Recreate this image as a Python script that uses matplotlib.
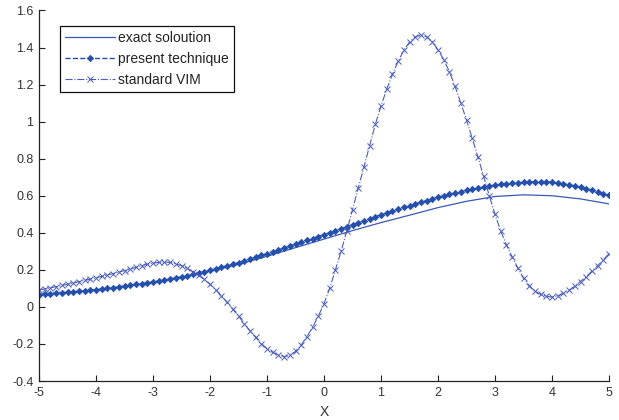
import numpy as np
import matplotlib
matplotlib.use("Agg")
import matplotlib.pyplot as plt

plt.rcParams['font.family'] = ['Liberation Sans', 'DejaVu Sans']

# Sample grids
x_fine = np.round(np.arange(-5.0, 5.0001, 0.1), 2)
x_coarse = np.round(np.arange(-5.0, 5.0001, 0.5), 2)

# exact solution (sampled every 0.5)
exact_vals = [0.068, 0.079, 0.092, 0.110, 0.132, 0.160, 0.192, 0.230, 0.273, 0.320,
              0.366, 0.412, 0.455, 0.495, 0.536, 0.570, 0.596, 0.605, 0.600, 0.583,
              0.556]

# present technique (sampled every 0.1)
present_vals = [0.066, 0.068, 0.070, 0.073, 0.075, 0.078, 0.081, 0.084, 0.087, 0.090,
                0.093, 0.096, 0.100, 0.104, 0.108, 0.112, 0.116, 0.121, 0.125, 0.130,
                0.135, 0.140, 0.145, 0.151, 0.157, 0.163, 0.169, 0.176, 0.183, 0.190,
                0.198, 0.206, 0.214, 0.222, 0.230, 0.239, 0.248, 0.258, 0.268, 0.278,
                0.288, 0.298, 0.308, 0.318, 0.329, 0.339, 0.349, 0.359, 0.369, 0.380,
                0.390, 0.401, 0.411, 0.422, 0.433, 0.444, 0.455, 0.466, 0.476, 0.487,
                0.497, 0.507, 0.517, 0.527, 0.537, 0.546, 0.556, 0.565, 0.574, 0.583,
                0.592, 0.600, 0.608, 0.615, 0.622, 0.629, 0.635, 0.641, 0.647, 0.652,
                0.657, 0.661, 0.665, 0.668, 0.670, 0.672, 0.674, 0.675, 0.675, 0.674,
                0.672, 0.669, 0.665, 0.660, 0.653, 0.646, 0.638, 0.629, 0.620, 0.611,
                0.602]

# standard VIM (sampled every 0.1)
vim_vals = [0.090, 0.097, 0.103, 0.109, 0.116, 0.122, 0.129, 0.136, 0.143, 0.150,
            0.157, 0.165, 0.172, 0.180, 0.188, 0.196, 0.205, 0.213, 0.222, 0.230,
            0.236, 0.240, 0.242, 0.240, 0.233, 0.222, 0.208, 0.190, 0.170, 0.148,
            0.122, 0.093, 0.060, 0.025, -0.012, -0.050, -0.090, -0.128, -0.165, -0.198,
            -0.225, -0.246, -0.261, -0.268, -0.262, -0.240, -0.205, -0.160, -0.110, -0.050,
            0.018, 0.100, 0.200, 0.300, 0.410, 0.525, 0.640, 0.755, 0.870, 0.985,
            1.085, 1.175, 1.255, 1.325, 1.385, 1.430, 1.458, 1.467, 1.458, 1.432,
            1.388, 1.335, 1.270, 1.190, 1.100, 1.010, 0.910, 0.810, 0.705, 0.600,
            0.500, 0.410, 0.335, 0.270, 0.210, 0.155, 0.115, 0.085, 0.067, 0.057,
            0.053, 0.060, 0.073, 0.090, 0.112, 0.137, 0.163, 0.193, 0.222, 0.254,
            0.288]

x_ticks = [-5, -4, -3, -2, -1, 0, 1, 2, 3, 4, 5]
y_ticks = [-0.4, -0.2, 0, 0.2, 0.4, 0.6, 0.8, 1, 1.2, 1.4, 1.6]

fig = plt.figure(figsize=(6.19, 4.20), dpi=100)
ax = fig.add_axes([39 / 619, 1 - 381 / 420, 570 / 619, 370.5 / 420])

ax.plot(x_coarse, exact_vals, '-', color='#3b58b6', lw=0.9, label='exact soloution')
ax.plot(x_fine, present_vals, '--', color='#2450ac', lw=1.0, marker='D',
        markersize=3.2, markeredgewidth=0.6, label='present technique')
ax.plot(x_fine, vim_vals, '-.', color='#4a5db8', lw=0.8, marker='x',
        markersize=5, markeredgewidth=0.7, label='standard VIM')

ax.set_xlim(-5, 5)
ax.set_ylim(-0.4, 1.6)
ax.set_xticks(x_ticks)
ax.set_yticks(y_ticks)
ax.set_xticklabels([f'{t:g}' for t in x_ticks])
ax.set_yticklabels([f'{t:g}' for t in y_ticks])

for side in ('top', 'right'):
    ax.spines[side].set_visible(False)
for side in ('left', 'bottom'):
    ax.spines[side].set_linewidth(0.9)
    ax.spines[side].set_color('#222222')

ax.tick_params(direction='in', length=4, width=0.8, labelsize=9,
               colors='#222222', labelcolor='#333333', pad=4)
ax.set_xlabel('X', fontsize=10, color='#333333', labelpad=5)

leg = ax.legend(loc='upper left', bbox_to_anchor=(60 / 619, 1 - 26 / 420),
                bbox_transform=fig.transFigure, fontsize=10, frameon=True,
                fancybox=False, framealpha=1, edgecolor='#111111',
                handlelength=3.6, handletextpad=0.25, labelspacing=0.5,
                borderpad=0.35, borderaxespad=0)
leg.get_frame().set_linewidth(0.9)
for t in leg.get_texts():
    t.set_color('#222222')

fig.savefig('out.png', dpi=100)
